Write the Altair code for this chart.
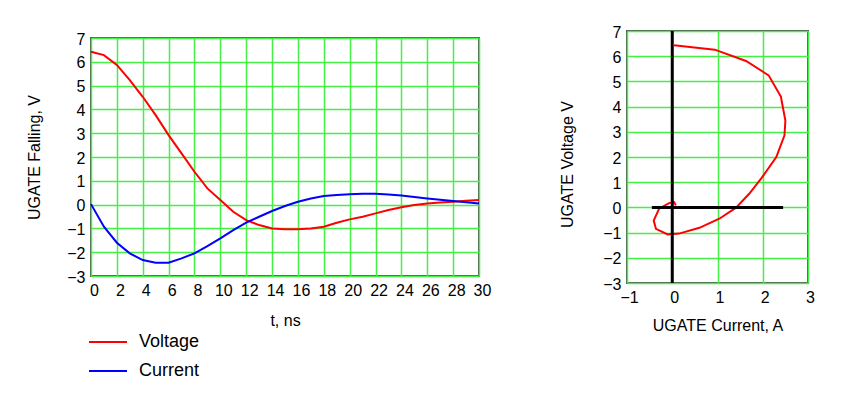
import altair as alt
import pandas as pd

# ---- data ----
t_ns = list(range(31))
voltage = [6.42, 6.28, 5.87, 5.23, 4.53, 3.76, 2.92, 2.15, 1.38, 0.68, 0.19,
           -0.30, -0.65, -0.86, -1.00, -1.04, -1.04, -1.00, -0.93, -0.76, -0.62,
           -0.51, -0.37, -0.23, -0.11, -0.02, 0.05, 0.09, 0.12, 0.16, 0.19]
current = [0.02, -0.93, -1.60, -2.05, -2.33, -2.44, -2.44, -2.26, -2.05, -1.74, -1.42,
           -1.07, -0.76, -0.51, -0.27, -0.06, 0.12, 0.26, 0.36, 0.40, 0.43,
           0.46, 0.46, 0.42, 0.38, 0.32, 0.26, 0.20, 0.15, 0.10, 0.05]

# phase-plane curve (right chart)
xy_current = [0.04, 0.94, 1.63, 2.13, 2.40, 2.50, 2.48, 2.30, 1.98, 1.70, 1.41,
              1.04, 0.60, 0.15, -0.10, -0.36, -0.41, -0.29, -0.07, 0.04, 0.08]
xy_voltage = [6.43, 6.26, 5.81, 5.24, 4.40, 3.45, 2.86, 2.00, 1.18, 0.54, -0.01,
              -0.45, -0.81, -1.04, -1.07, -0.85, -0.52, -0.05, 0.17, 0.21, 0.08]

# black axis cross lines on the right chart
vline_x = [0]
vline_y = [-3, 7]
hline_y = [0]
hline_x = [-0.45, 2.45]

series_names = ["Voltage", "Current"]
series_colors = ["#ff0000", "#0000ff"]

FONT = "Liberation Sans"
GRID = "#44f044"
BORDER = "#555555"

# ---- left chart ----
left_df = pd.concat([
    pd.DataFrame({"t": t_ns, "value": voltage, "series": "Voltage"}),
    pd.DataFrame({"t": t_ns, "value": current, "series": "Current"}),
])

left = alt.Chart(left_df).mark_line(strokeWidth=2).encode(
    x=alt.X("t:Q", scale=alt.Scale(domain=[0, 30], nice=False),
            axis=alt.Axis(title="t, ns", values=list(range(0, 31, 2)), labelOffset=3,
                          titleX=194, titleY=44, titleBaseline="middle", titleAlign="center")),
    y=alt.Y("value:Q", scale=alt.Scale(domain=[-3, 7], nice=False),
            axis=alt.Axis(title="UGATE Falling, V", values=list(range(-3, 8)), labelOffset=1,
                          titleX=-57, titleY=119, titleBaseline="middle", titleAlign="center")),
    color=alt.Color("series:N",
                    scale=alt.Scale(domain=series_names, range=series_colors),
                    legend=alt.Legend(title=None, orient="none", legendX=-3, legendY=291,
                                      symbolType="stroke", symbolSize=1444,
                                      symbolStrokeWidth=2, labelFontSize=18,
                                      labelFont=FONT, labelOffset=11, rowPadding=-15,
                                      padding=0, labelColor="#000000")),
    detail="series:N",
).properties(width=388, height=238)

# ---- right chart ----
xy_df = pd.DataFrame({"i": xy_current, "v": xy_voltage, "order": list(range(len(xy_current)))})
vline_df = pd.DataFrame({"x": vline_x, "y1": [vline_y[0]], "y2": [vline_y[1]]})
hline_df = pd.DataFrame({"y": hline_y, "x1": [hline_x[0]], "x2": [hline_x[1]]})

xsc = alt.Scale(domain=[-1, 3], nice=False)
ysc = alt.Scale(domain=[-3, 7], nice=False)
xax = alt.Axis(title="UGATE Current, A", values=[-1, 0, 1, 2, 3], labelOffset=2,
               titleX=90.5, titleY=42, titleBaseline="middle", titleAlign="center")
yax = alt.Axis(title="UGATE Voltage V", values=list(range(-3, 8)), labelOffset=1,
               titleX=-60, titleY=133, titleBaseline="middle", titleAlign="center")

curve = alt.Chart(xy_df).mark_line(color="#ff0000", strokeWidth=2).encode(
    x=alt.X("i:Q", scale=xsc, axis=xax),
    y=alt.Y("v:Q", scale=ysc, axis=yax),
    order="order:Q",
)
vrule = alt.Chart(vline_df).mark_rule(color="#000000", strokeWidth=3).encode(
    x=alt.X("x:Q", scale=xsc, axis=xax),
    y=alt.Y("y1:Q", scale=ysc, axis=yax), y2="y2:Q")
hrule = alt.Chart(hline_df).mark_rule(color="#000000", strokeWidth=3).encode(
    y=alt.Y("y:Q", scale=ysc, axis=yax),
    x=alt.X("x1:Q", scale=xsc, axis=xax), x2="x2:Q")

right = alt.layer(curve, vrule, hrule).properties(width=181, height=252)

chart = alt.hconcat(left, right, spacing=148, bounds="flush", center=True).properties(
    padding={"left": 24, "top": 23, "right": 5, "bottom": 5},
    background="#ffffff",
).configure_view(
    stroke=BORDER, strokeWidth=2,
).configure_axis(
    grid=True, gridColor=GRID, gridWidth=1.5, gridOpacity=1,
    domain=False, ticks=False, labelPadding=6, labelOverlap=False, labelFlush=False,
    labelFont=FONT, labelFontSize=16, labelColor="#000000",
    titleFont=FONT, titleFontSize=16, titleColor="#000000", titleFontWeight="normal",
)

chart.save("out.html", embed_options={"renderer": "svg", "actions": False})
